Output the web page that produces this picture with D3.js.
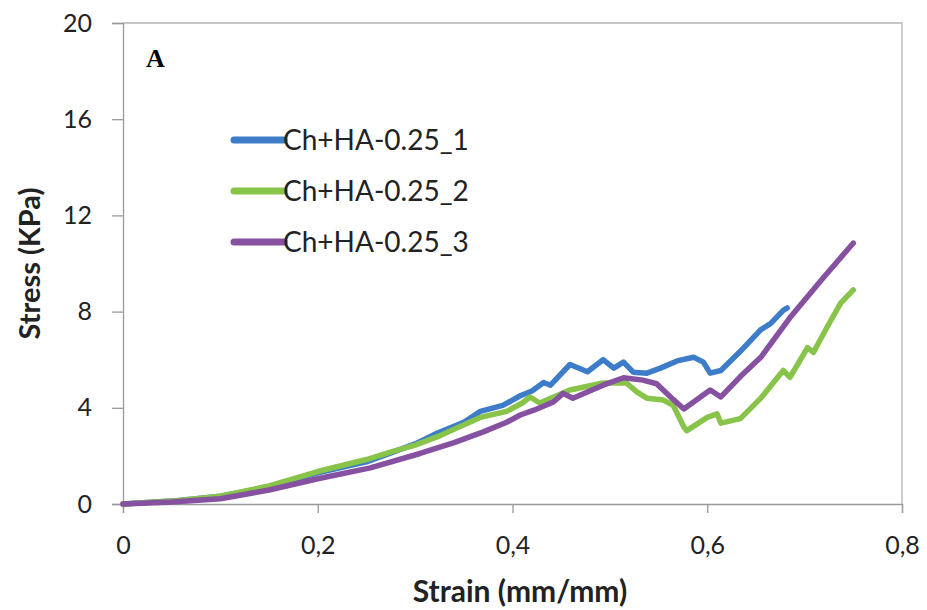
<!DOCTYPE html>
<html>
<head>
<meta charset="utf-8">
<script src="https://cdn.jsdelivr.net/npm/d3@7"></script>
<style>
  body { margin: 0; background: #fff; }
  svg { display: block; }
</style>
</head>
<body>
<script>
/* Stress-strain curves, three samples of Ch+HA-0.25 */
var seriesNames = ["Ch+HA-0.25_1", "Ch+HA-0.25_2", "Ch+HA-0.25_3"]
var seriesColors = ["#3d7cc9", "#88c34a", "#8651a0"]

var strain1 = [0, 0.05, 0.1, 0.15, 0.2, 0.25, 0.28, 0.3, 0.323, 0.35, 0.367, 0.39, 0.408, 0.42, 0.432, 0.439, 0.459, 0.477, 0.493, 0.504, 0.514, 0.524, 0.538, 0.552, 0.569, 0.586, 0.596, 0.603, 0.614, 0.634, 0.655, 0.665, 0.678, 0.682]
var stress1 = [0, 0.12, 0.32, 0.72, 1.3, 1.75, 2.2, 2.5, 2.95, 3.4, 3.85, 4.1, 4.5, 4.7, 5.05, 4.94, 5.8, 5.5, 6.0, 5.65, 5.9, 5.48, 5.44, 5.65, 5.95, 6.1, 5.9, 5.44, 5.55, 6.35, 7.25, 7.5, 8.05, 8.15]

var strain2 = [0, 0.05, 0.1, 0.15, 0.2, 0.25, 0.278, 0.3, 0.323, 0.345, 0.367, 0.394, 0.41, 0.418, 0.428, 0.459, 0.493, 0.517, 0.528, 0.538, 0.555, 0.565, 0.576, 0.579, 0.6, 0.61, 0.614, 0.634, 0.655, 0.678, 0.685, 0.703, 0.709, 0.723, 0.737, 0.75]
var stress2 = [0, 0.12, 0.32, 0.75, 1.35, 1.85, 2.2, 2.45, 2.8, 3.2, 3.6, 3.85, 4.2, 4.45, 4.2, 4.74, 5.03, 5.03, 4.65, 4.4, 4.32, 4.1, 3.2, 3.05, 3.6, 3.75, 3.36, 3.55, 4.4, 5.55, 5.27, 6.5, 6.3, 7.35, 8.35, 8.9]

var strain3 = [0, 0.05, 0.1, 0.15, 0.2, 0.254, 0.305, 0.34, 0.37, 0.394, 0.408, 0.422, 0.442, 0.452, 0.462, 0.493, 0.514, 0.534, 0.548, 0.565, 0.576, 0.603, 0.614, 0.634, 0.655, 0.685, 0.719, 0.75]
var stress3 = [0, 0.08, 0.22, 0.58, 1.05, 1.5, 2.1, 2.55, 3.0, 3.4, 3.7, 3.9, 4.24, 4.6, 4.4, 4.94, 5.25, 5.15, 5.0, 4.35, 3.95, 4.74, 4.45, 5.3, 6.1, 7.75, 9.4, 10.85]

var xTicks = [0, 0.2, 0.4, 0.6, 0.8]
var yTicks = [0, 4, 8, 12, 16, 20]

var width = 927, height = 610
var margin = { left: 123, right: 25, top: 23, bottom: 106 }

var svg = d3.select("body").append("svg")
    .attr("width", width)
    .attr("height", height)

var x = d3.scaleLinear().domain([0, 0.8]).range([margin.left, width - margin.right])
var y = d3.scaleLinear().domain([0, 20]).range([height - margin.bottom, margin.top])

var comma = d3.formatLocale({ decimal: ",", thousands: ".", grouping: [3], currency: ["", ""] })

/* plot border (top and right) */
svg.append("path")
    .attr("d", "M" + x(0) + "," + y(20) + "H" + x(0.8) + "V" + y(0))
    .attr("fill", "none")
    .attr("stroke", "#b5b5b5")
    .attr("stroke-width", 1.3)

var xAxis = d3.axisBottom(x).tickValues(xTicks).tickSize(9).tickPadding(23)
    .tickFormat(function(d) { return d === 0 ? "0" : comma.format(".1f")(d) })
var yAxis = d3.axisLeft(y).tickValues(yTicks).tickSize(11).tickPadding(20)

var gx = svg.append("g").attr("transform", "translate(0," + y(0) + ")").call(xAxis)
var gy = svg.append("g").attr("transform", "translate(" + x(0) + ",0)").call(yAxis)

;[gx, gy].forEach(function(g) {
    g.select(".domain").attr("stroke", "#9a9a9a").attr("stroke-width", 1.3)
    g.selectAll(".tick line").attr("stroke", "#9a9a9a").attr("stroke-width", 1.3)
    g.selectAll(".tick text")
        .attr("font-family", "Lato, sans-serif")
        .attr("font-size", "25px")
        .attr("fill", "#222")
})

/* curves */
var line = d3.line()
    .x(function(d) { return x(d[0]) })
    .y(function(d) { return y(d[1]) })

var curves = [d3.zip(strain1, stress1), d3.zip(strain2, stress2), d3.zip(strain3, stress3)]

svg.append("g").selectAll("path")
    .data(curves)
    .enter()
    .append("path")
    .attr("d", line)
    .attr("fill", "none")
    .attr("stroke", function(d, i) { return seriesColors[i] })
    .attr("stroke-width", 5.5)
    .attr("stroke-linejoin", "round")
    .attr("stroke-linecap", "round")

/* legend */
var legend = svg.append("g").selectAll("g")
    .data(seriesNames)
    .enter()
    .append("g")
    .attr("transform", function(d, i) { return "translate(234," + (140 + i * 51) + ")" })

legend.append("line")
    .attr("x1", 0).attr("x2", 50)
    .attr("stroke", function(d, i) { return seriesColors[i] })
    .attr("stroke-width", 7)
    .attr("stroke-linecap", "round")

legend.append("text")
    .attr("x", 49)
    .attr("dy", "0.36em")
    .attr("font-family", "Lato, sans-serif")
    .attr("font-size", "28px")
    .attr("fill", "#222")
    .text(function(d) { return d })

/* axis titles */
svg.append("text")
    .attr("x", 520)
    .attr("y", 602)
    .attr("text-anchor", "middle")
    .attr("font-family", "Lato, sans-serif")
    .attr("font-weight", "bold")
    .attr("font-size", "30px")
    .attr("fill", "#222")
    .text("Strain (mm/mm)")

svg.append("text")
    .attr("transform", "translate(40," + ((y(0) + y(20)) / 2) + ") rotate(-90)")
    .attr("text-anchor", "middle")
    .attr("font-family", "Lato, sans-serif")
    .attr("font-weight", "bold")
    .attr("font-size", "29px")
    .attr("fill", "#222")
    .text("Stress (KPa)")

/* panel letter */
svg.append("text")
    .attr("x", 146)
    .attr("y", 67)
    .attr("font-family", "Liberation Serif, serif")
    .attr("font-weight", "bold")
    .attr("font-size", "26px")
    .attr("fill", "#000")
    .text("A")
</script>
</body>
</html>
